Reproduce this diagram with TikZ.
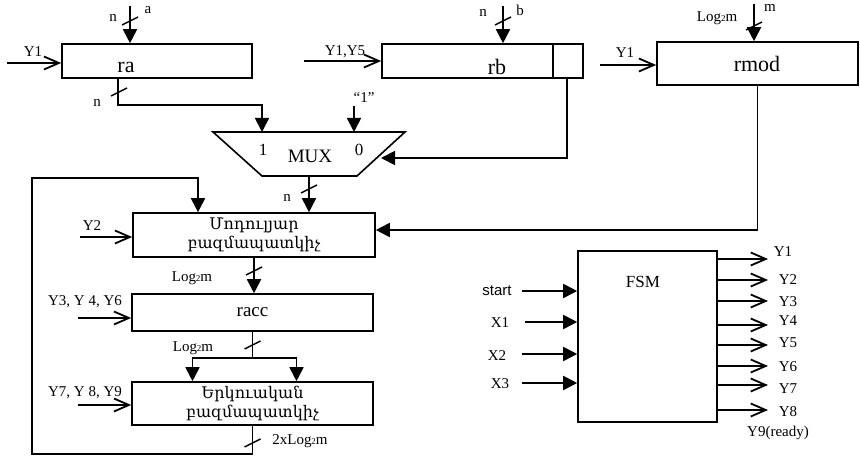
\documentclass[tikz,border=0pt]{standalone}
\usepackage{fontspec}
\setmainfont{Liberation Serif}
\newfontfamily\armfont{DejaVu Serif}
\newfontfamily\startfont{Liberation Sans}
\usetikzlibrary{arrows.meta}

\newcommand{\logm}{Log{\fontsize{9}{9}\selectfont 2}m}
\newcommand{\busmark}[1]{\draw[line width=1.5pt] (#1) ++(-8,4) -- ++(16,-8);}

\begin{document}
\begin{tikzpicture}[x=1pt, y=-1pt,
  wire/.style={line width=1.8pt},
  bus/.style={wire, -{Triangle[length=14pt,width=14pt]}},
  ctl/.style={wire, -{Straight Barb[length=15pt,width=13pt]}},
  reg/.style={draw, line width=1.6pt, inner sep=0pt},
  big/.style={font=\fontsize{22}{24}\selectfont},
  mid/.style={font=\fontsize{19}{21}\selectfont},
  lab/.style={font=\fontsize{15}{17}\selectfont, inner sep=0pt},
  arm/.style={font=\armfont\fontsize{16}{19}\selectfont, align=center}]

\useasboundingbox (0,0) rectangle (860,457);

\node[reg, minimum width=190pt, minimum height=34pt] (ra) at (157,61) {};
\node[reg, minimum width=201pt, minimum height=34pt] (rb) at (482.5,61) {};
\node[reg, minimum width=201pt, minimum height=43pt] (rmod) at (757.5,63.5) {};
\node[reg, arm, minimum width=242pt, minimum height=44pt] (mmul) at (254,235) {Մոդուլյար\\բազմապատկիչ};
\node[reg, mid, minimum width=241pt, minimum height=37pt] (racc) at (252.5,312.5) {racc};
\node[reg, arm, minimum width=241pt, minimum height=43pt] (bmul) at (252.5,403.5) {Երկուական\\բազմապատկիչ};
\node[reg, minimum width=139pt, minimum height=171pt] (fsm) at (647.5,336.5) {};

\draw[line width=1.6pt] (213,132) -- (405,132) -- (357,176) -- (262,176) -- cycle;
\coordinate (mux-n) at (309,132);
\coordinate (mux-s) at (309,176);
\coordinate (mux-e) at (381,158);

\draw[line width=1.6pt] ([xshift=-31pt]rb.north east) -- ([xshift=-31pt]rb.south east);

\node[big] (ra-t) at (126,67) {ra};
\node[big] (rb-t) at (497,67) {rb};
\node[big] (rmod-t) at (757,64) {rmod};
\node[mid] (mux-t) at (310,156) {MUX};
\node[lab, font=\fontsize{17}{19}\selectfont] (mux-one) at (263,150) {1};
\node[lab, font=\fontsize{17}{19}\selectfont] (mux-zero) at (359,150) {0};
\node[font=\fontsize{17}{19}\selectfont] (fsm-t) at (643,282) {FSM};

\coordinate (a-in) at (130,6);
\draw[bus] (a-in) -- (a-in |- ra.north);
\busmark{130,21}
\node[lab] at (113,18) {n};
\node[lab] at (148,10) {a};
\coordinate (y1-ra) at (7,63);
\draw[ctl] (y1-ra) -- (y1-ra -| ra.west);
\node[lab] at (33,52) {Y1};
\draw[bus] ([xshift=57pt]ra.south west) -- ++(0,26) -| ([xshift=-47pt]mux-n);
\busmark{119,92}
\node[lab] at (97,103) {n};

\coordinate (b-in) at (503,6);
\draw[bus] (b-in) -- (b-in |- rb.north);
\busmark{503,21}
\node[lab] at (483,13) {n};
\node[lab] at (520,10) {b};
\coordinate (y15-rb) at (304,61);
\draw[ctl] (y15-rb) -- (y15-rb -| rb.west);
\node[lab] at (345,52) {Y1,Y5};
\draw[bus] ([xshift=-17pt]rb.south east) |- (mux-e);

\coordinate (one-in) at (354,106);
\draw[bus] (one-in) -- (one-in |- mux-n);
\node[lab] at (364,98) {“1”};

\coordinate (m-in) at (754,4);
\draw[bus] (m-in) -- (m-in |- rmod.north);
\busmark{754,26}
\node[lab] at (717,18) {\logm};
\node[lab] at (770,8) {m};
\coordinate (y1-rmod) at (600,65);
\draw[ctl] (y1-rmod) -- (y1-rmod -| rmod.west);
\node[lab] at (625,53) {Y1};
\draw[bus] (rmod.south) |- ([yshift=5pt]mmul.east);

\draw[bus] (mux-s) -- (mux-s |- mmul.north);
\busmark{309,189}
\node[lab] at (287,198) {n};

\coordinate (fb) at (32,178);
\draw[bus] (bmul.south) -- ++(0,28) -| (fb) -| ([xshift=-56pt]mmul.north);
\busmark{252.5,443}
\node[lab] at (300,441) {2x\logm};

\coordinate (y2) at (80,237);
\draw[ctl] (y2) -- (y2 -| mmul.west);
\node[lab] at (92,226) {Y2};

\draw[bus] (mmul.south) -- (mmul.south |- racc.north);
\busmark{254,271}
\node[lab] at (192,278) {\logm};

\coordinate (y346) at (78,318);
\draw[ctl] (y346) -- (y346 -| racc.west);
\node[lab] at (85,302) {Y3, Y 4, Y6};

\coordinate (split) at (252.5,358);
\draw[wire] (racc.south) -- (split);
\draw[bus] (split) -| ([xshift=-60pt]bmul.north);
\draw[bus] (split) -| ([xshift=44pt]bmul.north);
\busmark{252.5,345}
\node[lab] at (193,348) {\logm};

\coordinate (y789) at (78,405);
\draw[ctl] (y789) -- (y789 -| bmul.west);
\node[lab] at (85,393) {Y7, Y 8, Y9};

\coordinate (st) at (522,291);
\draw[bus] (st) -- (st -| fsm.west);
\node[lab, font=\startfont\fontsize{15}{17}\selectfont] at (497,291) {start};
\coordinate (x1) at (525,322);
\draw[bus] (x1) -- (x1 -| fsm.west);
\node[lab] at (500,323) {X1};
\coordinate (x2) at (522,354);
\draw[bus] (x2) -- (x2 -| fsm.west);
\node[lab] at (497,356) {X2};
\coordinate (x3) at (522,383);
\draw[bus] (x3) -- (x3 -| fsm.west);
\node[lab] at (500,384) {X3};

\coordinate (o1) at (768,259);
\draw[ctl] (o1 -| fsm.east) -- (o1);
\node[lab] at (783,252) {Y1};
\coordinate (o2) at (768,280);
\draw[ctl] (o2 -| fsm.east) -- (o2);
\node[lab] at (788,280) {Y2};
\coordinate (o3) at (768,301);
\draw[ctl] (o3 -| fsm.east) -- (o3);
\node[lab] at (788,302) {Y3};
\coordinate (o4) at (768,325);
\draw[ctl] (o4 -| fsm.east) -- (o4);
\node[lab] at (788,321) {Y4};
\coordinate (o5) at (768,345);
\draw[ctl] (o5 -| fsm.east) -- (o5);
\node[lab] at (788,343) {Y5};
\coordinate (o6) at (768,366);
\draw[ctl] (o6 -| fsm.east) -- (o6);
\node[lab] at (788,367) {Y6};
\coordinate (o7) at (768,385);
\draw[ctl] (o7 -| fsm.east) -- (o7);
\node[lab] at (788,389) {Y7};
\coordinate (o8) at (768,410);
\draw[ctl] (o8 -| fsm.east) -- (o8);
\node[lab] at (788,412) {Y8};
\node[lab] at (778,433) {Y9(ready)};

\end{tikzpicture}
\end{document}
